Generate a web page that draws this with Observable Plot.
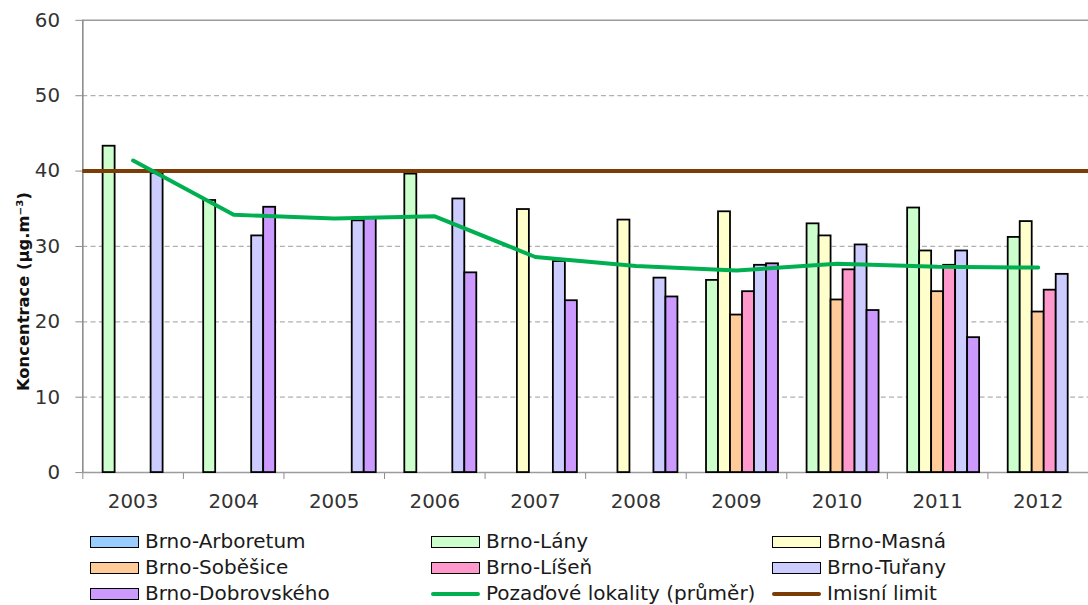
<!DOCTYPE html>
<html>
<head>
<meta charset="utf-8">
<script src="https://cdn.jsdelivr.net/npm/d3@7"></script>
<script src="https://cdn.jsdelivr.net/npm/@observablehq/plot@0.6"></script>
<style>
  html, body { margin: 0; padding: 0; background: #fff; overflow: hidden; }
  #wrap { position: relative; width: 1088px; height: 605px; overflow: hidden; font-family: "DejaVu Sans", sans-serif; }
  #chart { position: absolute; left: 0; top: 0; }
  .leg { position: absolute; font-size: 20px; color: #1a1a1a; white-space: nowrap; line-height: 20px; }
  .sw { position: absolute; box-sizing: border-box; border: 1.7px solid #000; }
  .ln { position: absolute; }
</style>
</head>
<body>
<div id="wrap"><div id="chart"></div><div id="legend"></div></div>
<script>
// ---- data ----
const years = [2003, 2004, 2005, 2006, 2007, 2008, 2009, 2010, 2011, 2012];
const stations = ["Brno-Arboretum", "Brno-Lány", "Brno-Masná", "Brno-Soběšice", "Brno-Líšeň", "Brno-Tuřany", "Brno-Dobrovského"];
const stationColors = ["#99ccff", "#ccffcc", "#ffffcc", "#ffcc99", "#ff99cc", "#ccccff", "#cc99ff"];
const arboretum   = [null, null, null, null, null, null, null, null, null, null];
const lany        = [43.3, 36.1, null, 39.6, null, null, 25.5, 33.0, 35.1, 31.2];
const masna       = [null, null, null, null, 34.9, 33.5, 34.6, 31.4, 29.4, 33.3];
const sobesice    = [null, null, null, null, null, null, 20.9, 22.9, 24.0, 21.3];
const lisen       = [null, null, null, null, null, null, 24.0, 26.9, 27.5, 24.2];
const turany      = [39.7, 31.4, 33.4, 36.3, 28.0, 25.8, 27.5, 30.2, 29.4, 26.3];
const dobrovskeho = [null, 35.2, 33.8, 26.5, 22.8, 23.3, 27.7, 21.5, 17.9, null];
const background  = [41.4, 34.2, 33.7, 34.0, 28.6, 27.4, 26.8, 27.7, 27.3, 27.2];
const limit = 40;
const backgroundLabel = "Pozaďové lokality (průměr)";
const limitLabel = "Imisní limit";
const yTicks = [0, 10, 20, 30, 40, 50, 60];
const yTitle = "Koncentrace (µg.m⁻³)";

// ---- build table ----
const series = [arboretum, lany, masna, sobesice, lisen, turany, dobrovskeho];
const bars = [];
series.forEach((vals, s) => vals.forEach((v, i) => { if (v != null) bars.push({i, s, station: stations[s], v}); }));
const lineData = background.map((v, i) => ({i, v}));

const slot = 0.1193;
const pad = (1 - stations.length * slot) / 2;
const idx = years.map((d, i) => i);
const bounds = d3.range(-0.5, years.length, 1);

const gray = "#8c8c8c";
const plot = Plot.plot({
  width: 1097, height: 530,
  marginLeft: 83, marginRight: 0, marginTop: 20, marginBottom: 54,
  style: {fontFamily: "DejaVu Sans", fontSize: "20px", background: "transparent"},
  x: {type: "linear", domain: [-0.5, years.length - 0.5], axis: null},
  y: {domain: [0, 60], axis: null},
  color: {domain: stations, range: stationColors},
  marks: [
    Plot.gridY([10, 20, 30, 40, 50], {stroke: "#b0b0b0", strokeOpacity: 1, strokeWidth: 1.3, strokeDasharray: "5,3.3"}),
    Plot.ruleY([60], {stroke: "#9c9c9c", strokeWidth: 1.6}),
    Plot.axisY(yTicks, {tickSize: 7, tickFormat: () => "", color: gray, label: null}),
    Plot.axisY(yTicks, {tickSize: 0, tickPadding: 23, color: "#333", fontSize: 20, label: null}),
    Plot.axisX(bounds, {tickSize: 7, tickFormat: () => "", color: gray, label: null}),
    Plot.axisX(idx, {tickSize: 0, tickPadding: 22, tickFormat: i => String(years[i]), color: "#333", fontSize: 20, label: null}),
    Plot.ruleY([0], {stroke: "#9c9c9c", strokeWidth: 1.6}),
    Plot.ruleX([-0.5], {stroke: gray, strokeWidth: 1.6}),
    Plot.rectY(bars, {
      x1: d => d.i - 0.5 + pad + d.s * slot,
      x2: d => d.i - 0.5 + pad + (d.s + 1) * slot,
      y1: 0, y2: "v", fill: "station", stroke: "#000", strokeWidth: 1.8
    }),
    Plot.ruleY([limit], {stroke: "#7b3d05", strokeWidth: 4}),
    Plot.line(lineData, {x: "i", y: "v", stroke: "#00b050", strokeWidth: 4})
  ]
});
document.getElementById("chart").appendChild(plot);

// y title
d3.select(plot).append("text")
  .attr("transform", "translate(29,294) rotate(-90)")
  .attr("text-anchor", "middle")
  .attr("font-family", "DejaVu Sans")
  .attr("font-weight", "bold")
  .attr("font-size", 16.5)
  .attr("fill", "#111")
  .text(yTitle);

// ---- legend ----
const legend = document.getElementById("legend");
const colX = [90, 431, 772];
const rowY = [542, 568, 594];
const items = stations.map((s, k) => ({label: s, type: "box", color: stationColors[k]}))
  .concat([{label: backgroundLabel, type: "line", color: "#00b050"}, {label: limitLabel, type: "line", color: "#7b3d05"}]);
items.forEach((it, k) => {
  const c = k % 3, r = Math.floor(k / 3);
  const x = colX[c], y = rowY[r];
  const sw = document.createElement("div");
  if (it.type === "box") {
    sw.className = "sw";
    Object.assign(sw.style, {left: x + "px", top: (y - 6) + "px", width: "49px", height: "12px", background: it.color});
  } else {
    sw.className = "ln";
    Object.assign(sw.style, {left: x + "px", top: (y - 2) + "px", width: "49px", height: "4px", background: it.color, borderRadius: "2px"});
  }
  legend.appendChild(sw);
  const t = document.createElement("div");
  t.className = "leg";
  t.textContent = it.label;
  Object.assign(t.style, {left: (x + 55) + "px", top: (y - 11) + "px"});
  legend.appendChild(t);
});
</script>
</body>
</html>
